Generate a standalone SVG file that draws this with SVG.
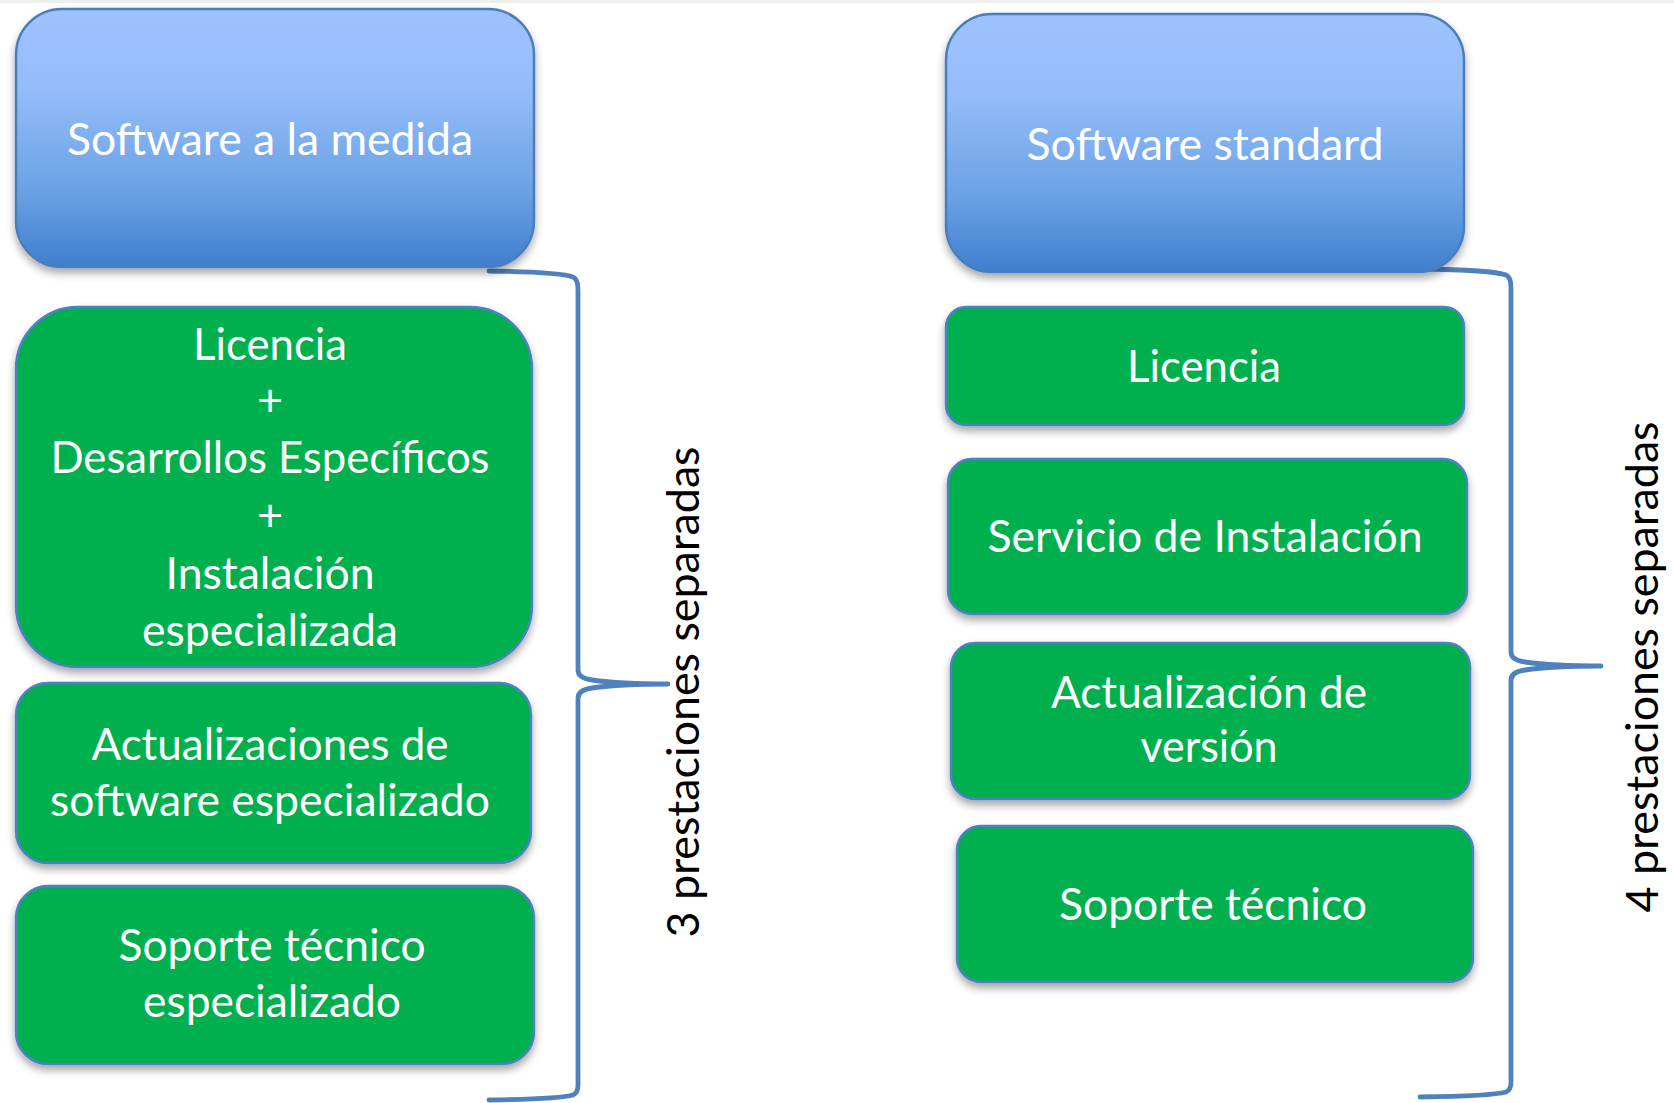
<svg xmlns="http://www.w3.org/2000/svg" width="1674" height="1103" viewBox="0 0 1674 1103">
<defs>
<linearGradient id="blueGrad" x1="0" y1="0" x2="0" y2="1">
<stop offset="0" stop-color="#9DC3FE"/>
<stop offset="0.3" stop-color="#95BDFA"/>
<stop offset="0.7" stop-color="#6BA2E5"/>
<stop offset="1" stop-color="#3F7FCD"/>
</linearGradient>
<filter id="shadow" x="-10%" y="-10%" width="120%" height="130%">
<feGaussianBlur in="SourceAlpha" stdDeviation="4"/>
<feOffset dx="0" dy="5" result="b"/>
<feComponentTransfer><feFuncA type="linear" slope="0.35"/></feComponentTransfer>
<feMerge><feMergeNode/><feMergeNode in="SourceGraphic"/></feMerge>
</filter>
</defs>
<style>
.blue{fill:url(#blueGrad);stroke:#4A7EBB;stroke-width:2.5;filter:url(#shadow)}
.green{fill:#00B050;stroke:#4F7FC4;stroke-width:2.5;filter:url(#shadow)}
.t{font-family:Lato,"Open Sans",sans-serif;font-size:45px;fill:#FFFFFF;text-anchor:middle}
.r{font-family:Lato,"Open Sans",sans-serif;font-size:45px;fill:#000000;text-anchor:middle}
.brace{fill:none;stroke:#4F81BD;stroke-width:4.8;stroke-linecap:round;stroke-linejoin:round}
</style>
<rect x="0" y="0" width="1674" height="3" fill="#EEEEEE"/>

<g id="connectors">
<path class="brace" d="M489,271 Q560,272 573,277 Q578,279 578,290 L578,670 Q578,678 592,680 Q620,684 668,684 Q620,684 592,688 Q578,690 578,698 L578,1085 Q578,1093 573,1095 Q560,1099 489,1100"/>
<path class="brace" d="M1420,269 Q1492,270 1506,275 Q1511,277 1511,288 L1511,652 Q1511,660 1525,662 Q1553,666 1601,666 Q1553,666 1525,670 Q1511,672 1511,680 L1511,1082 Q1511,1090 1506,1092 Q1492,1096 1420,1097"/>
</g>

<g id="node-sw-medida">
<rect class="blue" x="16" y="9" width="518" height="258" rx="46" ry="46"/>
<text class="t" x="270" y="155" textLength="406" lengthAdjust="spacingAndGlyphs">Software a la medida</text>
</g>
<g id="node-licencia-desarrollos">
<rect class="green" x="16" y="307" width="516" height="360" rx="62" ry="62"/>
<text class="t" x="270" y="360" textLength="154" lengthAdjust="spacingAndGlyphs">Licencia</text>
<text class="t" x="270" y="416">+</text>
<text class="t" x="270" y="473" textLength="439" lengthAdjust="spacingAndGlyphs">Desarrollos Específicos</text>
<text class="t" x="270" y="531">+</text>
<text class="t" x="270" y="589" textLength="209" lengthAdjust="spacingAndGlyphs">Instalación</text>
<text class="t" x="270" y="646" textLength="256" lengthAdjust="spacingAndGlyphs">especializada</text>
</g>
<g id="node-actualizaciones">
<rect class="green" x="16" y="683" width="515" height="180" rx="32" ry="32"/>
<text class="t" x="270" y="760" textLength="357" lengthAdjust="spacingAndGlyphs">Actualizaciones de</text>
<text class="t" x="270" y="816" textLength="440" lengthAdjust="spacingAndGlyphs">software especializado</text>
</g>
<g id="node-soporte-especializado">
<rect class="green" x="16" y="886" width="518" height="178" rx="32" ry="32"/>
<text class="t" x="272" y="961" textLength="307" lengthAdjust="spacingAndGlyphs">Soporte  técnico</text>
<text class="t" x="272" y="1017" textLength="258" lengthAdjust="spacingAndGlyphs">especializado</text>
</g>
<g id="label-3">
<text class="r" transform="translate(699,692) rotate(-90)" textLength="491" lengthAdjust="spacingAndGlyphs">3 prestaciones separadas</text>
</g>

<g id="node-sw-standard">
<rect class="blue" x="946" y="14" width="518" height="258" rx="46" ry="46"/>
<text class="t" x="1205" y="160" textLength="357" lengthAdjust="spacingAndGlyphs">Software standard</text>
</g>
<g id="node-licencia">
<rect class="green" x="946" y="307" width="518" height="118" rx="20" ry="20"/>
<text class="t" x="1204" y="382" textLength="154" lengthAdjust="spacingAndGlyphs">Licencia</text>
</g>
<g id="node-instalacion">
<rect class="green" x="948" y="459" width="519" height="155" rx="24" ry="24"/>
<text class="t" x="1205" y="552" textLength="435" lengthAdjust="spacingAndGlyphs">Servicio de Instalación</text>
</g>
<g id="node-actualizacion">
<rect class="green" x="951" y="643" width="519" height="156" rx="24" ry="24"/>
<text class="t" x="1209" y="708" textLength="316" lengthAdjust="spacingAndGlyphs">Actualización de</text>
<text class="t" x="1209" y="762" textLength="137" lengthAdjust="spacingAndGlyphs">versión</text>
</g>
<g id="node-soporte">
<rect class="green" x="957" y="826" width="516" height="156" rx="24" ry="24"/>
<text class="t" x="1213" y="920" textLength="308" lengthAdjust="spacingAndGlyphs">Soporte  técnico</text>
</g>
<g id="label-4">
<text class="r" transform="translate(1658,667) rotate(-90)" textLength="491" lengthAdjust="spacingAndGlyphs">4 prestaciones separadas</text>
</g>
</svg>
